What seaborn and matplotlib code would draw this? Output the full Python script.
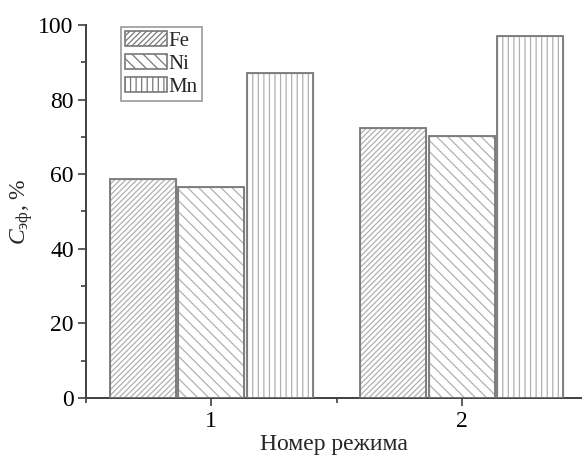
import matplotlib
matplotlib.use("Agg")
import matplotlib.pyplot as plt
from matplotlib.patches import Patch, Rectangle
from matplotlib.ticker import MultipleLocator, FixedLocator
import pandas as pd
import seaborn as sns

# Data
modes = ["1", "2"]
elements = ["Fe", "Ni", "Mn"]
fe_values = [58.6, 72.3]
ni_values = [56.5, 70.2]
mn_values = [87.2, 97.0]

HATCHES = {"Fe": "//////", "Ni": "\\\\\\", "Mn": "|||"}
EDGE = "#787878"
HATCH_COL = "#b0b0b0"

sns.set_theme(style="ticks")
plt.rcParams["font.family"] = ["Liberation Serif", "DejaVu Serif"]
plt.rcParams["mathtext.fontset"] = "custom"
plt.rcParams["mathtext.rm"] = "Liberation Serif"
plt.rcParams["mathtext.it"] = "Liberation Serif:italic"
plt.rcParams["hatch.linewidth"] = 0.9

df = pd.DataFrame({
    "mode": modes * 3,
    "element": [e for e in elements for _ in modes],
    "value": fe_values + ni_values + mn_values,
})

fig = plt.figure(figsize=(5.82, 4.62), dpi=100)
ax = fig.add_axes([0.148, 0.1385, 0.852, 0.8075])

sns.barplot(data=df, x="mode", y="value", hue="element", hue_order=elements,
            order=modes, width=0.82, gap=0.04, palette=["white"] * 3,
            errorbar=None, legend=False, ax=ax)

# hatch each bar, then draw a darker outline on top
for i, p in enumerate(ax.patches[:6]):
    el = elements[i // 2]
    p.set_facecolor("white")
    p.set_edgecolor(HATCH_COL)
    p.set_hatch(HATCHES[el])
    p.set_linewidth(0.9)
    ax.add_patch(Rectangle(p.get_xy(), p.get_width(), p.get_height(),
                           fill=False, edgecolor=EDGE, linewidth=1.3, zorder=3))

ax.set_xlim(-0.5, 1.48)
ax.set_ylim(0, 100)
ax.yaxis.set_major_locator(MultipleLocator(20))
ax.yaxis.set_minor_locator(MultipleLocator(10))
ax.xaxis.set_minor_locator(FixedLocator([-0.5, 0.5]))

for side in ["top", "right"]:
    ax.spines[side].set_visible(False)
for side in ["left", "bottom"]:
    ax.spines[side].set_color("#404040")
    ax.spines[side].set_linewidth(1.4)

ax.tick_params(axis="both", which="major", direction="out", length=6, width=1.2,
               color="#404040", labelsize=17, pad=3, labelcolor="black")
ax.tick_params(axis="both", which="minor", direction="out", length=3.5, width=1.2,
               color="#404040")

ax.set_xlabel("Номер режима", fontsize=17, labelpad=2)
ax.set_ylabel(r"$C_{\mathrm{эф}}$, %", fontsize=17, labelpad=2)

handles = [Patch(facecolor="white", edgecolor=HATCH_COL, hatch=HATCHES[e], linewidth=1.2)
           for e in elements]
leg = ax.legend(handles, elements, loc="upper left", bbox_to_anchor=(0.07, 0.995),
                fontsize=15, frameon=True, fancybox=False, handlelength=2.0,
                handleheight=0.75, handletextpad=0.1, labelspacing=0.15,
                borderpad=0.2, borderaxespad=0.0)
leg.get_frame().set_edgecolor("#808080")
leg.get_frame().set_linewidth(1.2)
for h in leg.legend_handles:
    h.set_edgecolor(EDGE)

fig.savefig("out.png", dpi=100)
